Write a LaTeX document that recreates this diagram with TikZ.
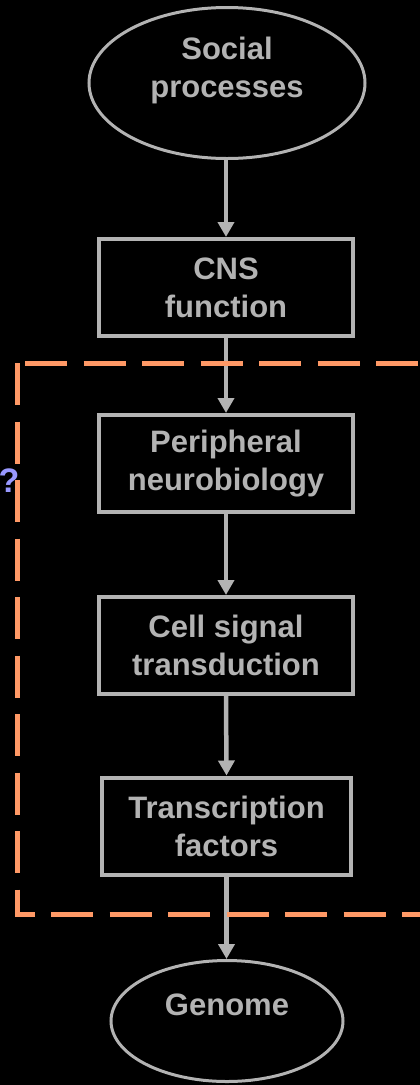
\documentclass[tikz,border=0pt]{standalone}
\usepackage{fontspec}
\setmainfont{Liberation Sans}
\usetikzlibrary{shapes.geometric,arrows.meta}
\definecolor{fggrey}{HTML}{B3B3B3}
\definecolor{dashorange}{HTML}{FF9966}
\definecolor{qpurple}{HTML}{9999FF}
\tikzset{
  lbl/.style={font=\bfseries\fontsize{31}{38}\selectfont, text=fggrey, align=center, inner sep=0pt},
  stepbox/.style={draw=fggrey, line width=4pt, fill=black, minimum width=254pt, minimum height=97pt, lbl},
  oval/.style={draw=fggrey, line width=3pt, ellipse, inner sep=0pt},
  flow/.style={draw=fggrey, line width=4.5pt, -{Triangle[width=16pt,length=15pt]}},
  region/.style={draw=dashorange, line width=5pt, dash pattern=on 42pt off 16.5pt},
  qlbl/.style={font=\bfseries\fontsize{34}{40}\selectfont, text=qpurple, inner sep=0pt}
}
\begin{document}
\begin{tikzpicture}[x=1pt,y=-1pt]
\fill[black] (0,0) rectangle (420,1085);
\useasboundingbox (0,0) rectangle (420,1085);
% ellipses
\node[oval, minimum width=276pt, minimum height=151pt] (social) at (227,83) {};
\node[lbl] (socialtext) at (227,70) {Social\\processes};
\node[oval, minimum width=232pt, minimum height=121pt] (genome) at (227,1021) {};
\node[lbl, anchor=base] (genometext) at (227,1015) {Genome};
% boxes
\node[stepbox] (cns) at (226,287.5) {CNS\\function};
\node[stepbox] (periph) at (226,463.5) {Peripheral\\neurobiology};
\node[stepbox] (cell) at (226,645.5) {Cell signal\\transduction};
\node[stepbox, minimum width=249pt] (trans) at (226.5,826) {Transcription\\factors};
% arrows
\draw[flow] (social.south -| cns.north) -- (cns.north);
\draw[flow] (cns.south) -- (periph.north);
\draw[flow] (periph.south) -- (cell.north);
\draw[flow] (cell.south) -- (trans.north);
\draw[flow] (trans.south) -- (trans.south |- genome.north);
% dashed region
\coordinate (rtl) at (17,363);
\coordinate (rbl) at (17,914);
\coordinate (rbr) at (440,914);
\coordinate (rts) at (25,363);
\coordinate (rtr) at (440,363);
\draw[region] (rtl) -- (rbl) -- (rbr);
\draw[region] (rts) -- (rtr);
% question mark
\node[qlbl, anchor=base] (qmark) at (9,492) {?};
\end{tikzpicture}
\end{document}
